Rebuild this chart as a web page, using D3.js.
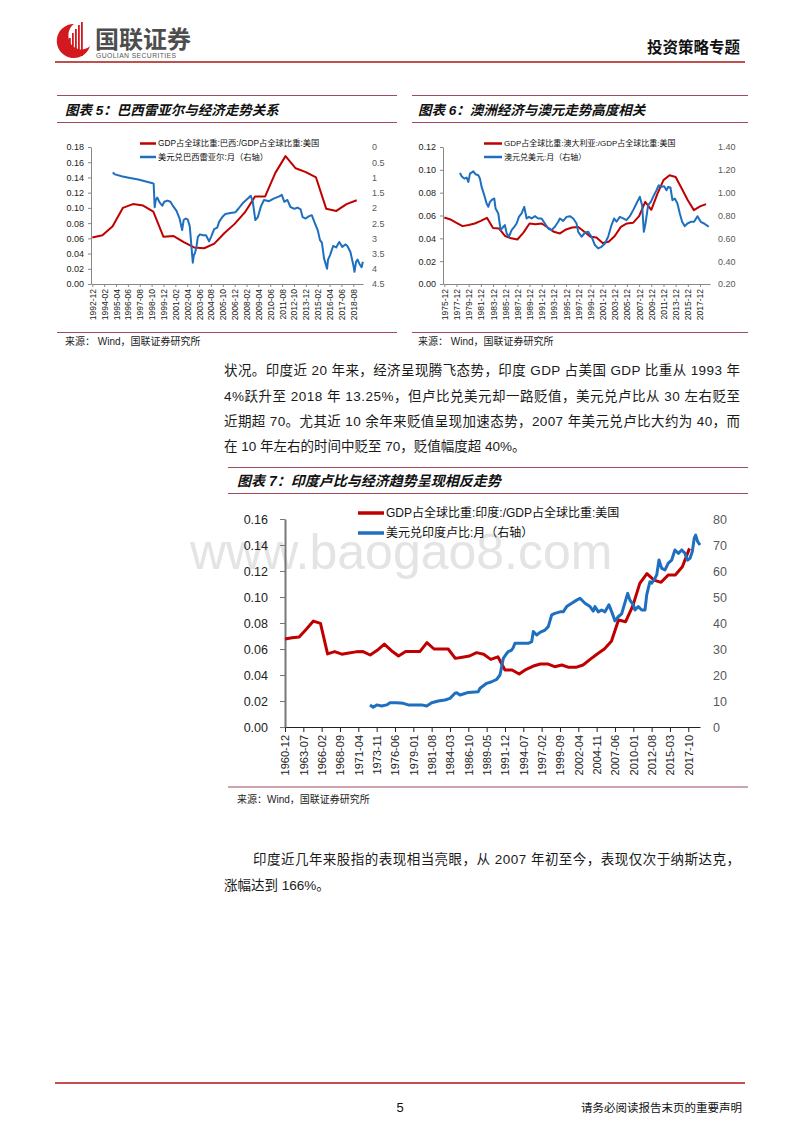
<!DOCTYPE html>
<html><head><meta charset="utf-8">
<script src="https://cdn.jsdelivr.net/npm/d3@7"></script>
<style>body{margin:0;background:#fff;}svg{display:block;}</style>
</head><body>
<svg id="page" width="800" height="1132"></svg>
<script>
// ---------------- DATA ----------------
// Chart 5: Brazil
const brXLabels = ["1992-12","1994-02","1995-04","1996-06","1997-08","1998-10","1999-12","2001-02","2002-04","2003-06","2004-08","2005-10","2006-12","2008-02","2009-04","2010-06","2011-08","2012-10","2013-12","2015-02","2016-04","2017-06","2018-08"];
const brYears = [1992,1993,1994,1995,1996,1997,1998,1999,2000,2001,2002,2003,2004,2005,2006,2007,2008,2009,2010,2011,2012,2013,2014,2015,2016,2017,2018];
const brGdpRatio = [0.061,0.064,0.076,0.100,0.105,0.103,0.095,0.062,0.063,0.055,0.048,0.047,0.053,0.067,0.079,0.094,0.115,0.115,0.146,0.168,0.152,0.147,0.140,0.099,0.096,0.105,0.110];
const brFx = [[1994.92,0.84],[1995.15,0.90],[1995.80,0.96],[1996.50,1.01],[1997.44,1.07],[1998.85,1.19],[1998.95,1.21],[1999.05,1.98],[1999.15,1.75],[1999.30,1.66],[1999.50,1.80],[1999.80,1.93],[2000.00,1.80],[2000.30,1.76],[2000.60,1.80],[2000.90,1.96],[2001.20,2.10],[2001.50,2.35],[2001.75,2.73],[2001.90,2.40],[2002.10,2.35],[2002.30,2.38],[2002.50,2.60],[2002.65,3.20],[2002.80,3.80],[2002.90,3.55],[2003.00,3.50],[2003.15,3.30],[2003.30,2.95],[2003.50,2.87],[2003.80,2.90],[2004.10,2.90],[2004.40,3.10],[2004.60,2.95],[2004.90,2.70],[2005.20,2.65],[2005.40,2.45],[2005.70,2.30],[2006.00,2.20],[2006.50,2.17],[2007.00,2.14],[2007.30,2.02],[2007.70,1.85],[2008.00,1.76],[2008.50,1.60],[2008.70,1.80],[2008.95,2.40],[2009.20,2.30],[2009.50,1.95],[2009.80,1.74],[2010.30,1.78],[2010.80,1.69],[2011.30,1.62],[2011.55,1.57],[2011.80,1.80],[2012.10,1.74],[2012.40,1.97],[2012.80,2.03],[2013.10,1.99],[2013.40,2.05],[2013.60,2.30],[2013.90,2.35],[2014.20,2.28],[2014.50,2.24],[2014.80,2.50],[2015.10,2.75],[2015.30,3.05],[2015.50,3.15],[2015.70,3.65],[2015.90,3.88],[2016.00,4.00],[2016.10,3.70],[2016.30,3.55],[2016.60,3.25],[2016.90,3.30],[2017.20,3.12],[2017.50,3.28],[2017.80,3.20],[2018.00,3.25],[2018.30,3.45],[2018.60,3.90],[2018.70,4.10],[2018.85,3.78],[2019.00,3.70],[2019.20,3.85],[2019.40,3.95],[2019.52,3.77]];
const brLeftTicks = [0,0.02,0.04,0.06,0.08,0.10,0.12,0.14,0.16,0.18];
const brRightTicks = [0,0.5,1,1.5,2,2.5,3,3.5,4,4.5];

// Chart 6: Australia
const auXLabels = ["1975-12","1977-12","1979-12","1981-12","1983-12","1985-12","1987-12","1989-12","1991-12","1993-12","1995-12","1997-12","1999-12","2001-12","2003-12","2005-12","2007-12","2009-12","2011-12","2013-12","2015-12","2017-12"];
const auYears = [1975,1976,1977,1978,1979,1980,1981,1982,1983,1984,1985,1986,1987,1988,1989,1990,1991,1992,1993,1994,1995,1996,1997,1998,1999,2000,2001,2002,2003,2004,2005,2006,2007,2008,2009,2010,2011,2012,2013,2014,2015,2016,2017,2018];
const auGdpRatio = [0.0583,0.0565,0.0536,0.0507,0.0516,0.0530,0.0553,0.0580,0.0490,0.0486,0.0420,0.0400,0.0390,0.0450,0.0530,0.0524,0.0530,0.0495,0.0457,0.0443,0.0478,0.0495,0.0500,0.0457,0.0414,0.0408,0.0360,0.0370,0.0420,0.0500,0.0530,0.0536,0.0594,0.0720,0.0650,0.0790,0.0910,0.0952,0.0938,0.0836,0.0734,0.0647,0.0680,0.0700];
const auFx = [[1978.49,1.173],[1978.76,1.144],[1979.20,1.123],[1979.58,1.132],[1979.86,1.094],[1980.13,1.167],[1980.68,1.187],[1981.06,1.161],[1981.50,1.153],[1981.77,1.123],[1982.04,1.051],[1982.48,0.978],[1982.86,0.905],[1983.14,0.876],[1983.41,0.919],[1983.79,0.940],[1984.12,0.949],[1984.34,0.861],[1984.78,0.818],[1985.16,0.672],[1985.60,0.701],[1985.87,0.716],[1986.15,0.643],[1986.53,0.614],[1986.97,0.672],[1987.41,0.701],[1987.79,0.730],[1988.17,0.788],[1988.61,0.818],[1989.05,0.876],[1989.43,0.774],[1989.81,0.788],[1990.25,0.774],[1990.80,0.794],[1991.35,0.774],[1991.89,0.774],[1992.44,0.730],[1992.99,0.686],[1993.53,0.672],[1994.08,0.701],[1994.63,0.745],[1994.90,0.774],[1995.45,0.753],[1996.00,0.788],[1996.54,0.794],[1997.09,0.774],[1997.64,0.730],[1997.91,0.657],[1998.46,0.614],[1999.01,0.649],[1999.55,0.657],[2000.10,0.614],[2000.65,0.541],[2001.19,0.512],[2001.74,0.526],[2002.29,0.555],[2002.83,0.614],[2003.38,0.716],[2003.82,0.774],[2004.20,0.745],[2004.75,0.788],[2005.30,0.774],[2005.84,0.759],[2006.39,0.794],[2006.94,0.847],[2007.48,0.905],[2008.03,0.963],[2008.41,0.890],[2008.69,0.657],[2008.96,0.730],[2009.40,0.890],[2009.84,0.919],[2010.22,0.963],[2010.77,1.021],[2011.15,1.065],[2011.59,1.051],[2012.03,1.056],[2012.41,1.021],[2012.68,1.051],[2013.06,1.045],[2013.39,0.934],[2013.78,0.949],[2014.21,0.905],[2014.60,0.818],[2014.98,0.745],[2015.42,0.707],[2015.85,0.730],[2016.40,0.745],[2016.95,0.745],[2017.50,0.794],[2018.04,0.745],[2018.59,0.730],[2018.97,0.716],[2019.36,0.701]];
const auLeftTicks = [0,0.02,0.04,0.06,0.08,0.10,0.12];
const auRightTicks = [0.2,0.4,0.6,0.8,1.0,1.2,1.4];

// Chart 7: India
const inXLabels = ["1960-12","1963-07","1966-02","1968-09","1971-04","1973-11","1976-06","1979-01","1981-08","1984-03","1986-10","1989-05","1991-12","1994-07","1997-02","1999-09","2002-04","2004-11","2007-06","2010-01","2012-08","2015-03","2017-10"];
const inYears = [1960,1961,1962,1963,1964,1965,1966,1967,1968,1969,1970,1971,1972,1973,1974,1975,1976,1977,1978,1979,1980,1981,1982,1983,1984,1985,1986,1987,1988,1989,1990,1991,1992,1993,1994,1995,1996,1997,1998,1999,2000,2001,2002,2003,2004,2005,2006,2007,2008,2009,2010,2011,2012,2013,2014,2015,2016,2017];
const inGdpRatio = [0.0677,0.0687,0.0693,0.0752,0.0815,0.0797,0.0562,0.0580,0.0560,0.0570,0.0578,0.0580,0.0554,0.0590,0.0638,0.0587,0.0546,0.0580,0.0580,0.0580,0.0649,0.0600,0.0600,0.0600,0.0528,0.0537,0.0546,0.0572,0.0560,0.0520,0.0540,0.0438,0.0438,0.0408,0.0444,0.0469,0.0485,0.0485,0.0464,0.0477,0.0459,0.0459,0.0477,0.0520,0.0562,0.0600,0.0660,0.0823,0.0810,0.0930,0.1105,0.1180,0.1130,0.1113,0.1169,0.1169,0.1233,0.1374];
const inFx = [[1972.89,8.5],[1973.36,7.6],[1973.84,8.5],[1974.54,8.1],[1975.25,8.5],[1975.71,9.3],[1976.66,9.3],[1977.59,9.1],[1978.29,8.5],[1979.24,8.5],[1980.18,8.5],[1980.88,8.1],[1981.59,9.3],[1982.52,10.0],[1983.46,10.4],[1984.17,11.0],[1984.87,13.0],[1985.11,13.2],[1985.58,12.3],[1986.04,12.7],[1986.75,13.3],[1988.16,13.6],[1988.40,14.9],[1989.34,16.8],[1990.04,17.4],[1990.75,18.3],[1991.21,20.0],[1991.45,23.2],[1991.68,26.4],[1992.16,28.3],[1992.38,29.0],[1992.86,29.6],[1993.09,30.6],[1993.32,32.2],[1994.03,32.2],[1995.20,32.2],[1995.68,32.8],[1995.91,36.7],[1996.39,35.4],[1996.85,36.4],[1997.56,37.3],[1998.02,38.6],[1998.50,43.1],[1998.96,43.7],[1999.67,44.3],[2000.13,44.3],[2000.61,46.3],[2001.32,47.6],[2002.02,48.8],[2002.49,49.5],[2003.19,47.6],[2003.90,46.3],[2004.36,44.6],[2004.60,46.3],[2005.07,44.3],[2005.54,45.0],[2006.01,44.3],[2006.57,47.0],[2007.04,43.7],[2007.42,40.8],[2007.88,42.4],[2008.36,43.5],[2008.73,47.0],[2009.21,51.4],[2009.53,48.8],[2010.00,47.0],[2010.24,45.0],[2010.70,46.3],[2011.18,45.0],[2011.65,45.0],[2011.89,50.8],[2012.11,53.3],[2012.35,55.9],[2012.59,55.3],[2013.06,57.2],[2013.30,58.5],[2013.62,64.2],[2014.00,61.0],[2014.47,60.4],[2014.93,63.0],[2015.41,64.2],[2015.87,68.1],[2016.34,66.8],[2016.82,68.1],[2017.28,66.8],[2017.66,64.2],[2017.99,64.9],[2018.31,67.4],[2018.59,72.6],[2018.79,73.8],[2019.07,71.3],[2019.40,70.0]];
const inLeftTicks = [0,0.02,0.04,0.06,0.08,0.10,0.12,0.14,0.16];
const inRightTicks = [0,10,20,30,40,50,60,70,80];

// Text
const para1 = ["状况。印度近 20 年来，经济呈现腾飞态势，印度 GDP 占美国 GDP 比重从 1993 年",
  "4%跃升至 2018 年 13.25%，但卢比兑美元却一路贬值，美元兑卢比从 30 左右贬至",
  "近期超 70。尤其近 10 余年来贬值呈现加速态势，2007 年美元兑卢比大约为 40，而",
  "在 10 年左右的时间中贬至 70，贬值幅度超 40%。"];
const para2 = ["印度近几年来股指的表现相当亮眼，从 2007 年初至今，表现仅次于纳斯达克，", "涨幅达到 166%。"];

// ---------------- DRAW ----------------
const CJK = "'Noto Sans CJK SC', sans-serif";
const LAT = "'Liberation Sans', 'Noto Sans CJK SC', sans-serif";
const RED = "#c00000", BLUE = "#1f6fc0", BOX = "#a04a5c", HDR = "#c0504d";
const svg = d3.select("#page");
svg.append("rect").attr("width",800).attr("height",1132).attr("fill","#fff");

// header logo
const logo = svg.append("g");
logo.append("path").attr("d","M74,24 A17,17 0 1 0 90,46 A13,14 0 1 1 74,24 Z").attr("fill","#d31920");
[[69,38],[72,33],[75,29],[78,25],[81,22]].forEach(b=>{
  logo.append("rect").attr("x",b[0]).attr("y",b[1]).attr("width",1.8).attr("height",56-b[1]).attr("fill","#d31920");
});
logo.append("text").attr("x",95).attr("y",48).attr("font-family",CJK).attr("font-weight","bold").attr("font-size",24).attr("fill","#4d4d4d").text("国联证券");
logo.append("text").attr("x",96).attr("y",57.5).attr("font-family",LAT).attr("font-size",6.8).attr("letter-spacing",0.4).attr("fill","#555").text("GUOLIAN SECURITIES");
svg.append("text").attr("x",740).attr("y",53).attr("text-anchor","end").attr("font-family",CJK).attr("font-weight","bold").attr("font-size",15.5).attr("fill","#111").text("投资策略专题");
svg.append("line").attr("x1",55).attr("x2",745).attr("y1",62).attr("y2",62).attr("stroke",HDR).attr("stroke-width",2);

// footer
svg.append("line").attr("x1",55).attr("x2",745).attr("y1",1083).attr("y2",1083).attr("stroke",HDR).attr("stroke-width",2);
svg.append("text").attr("x",400).attr("y",1112).attr("text-anchor","middle").attr("font-family",LAT).attr("font-size",13).attr("fill","#111").text("5");
svg.append("text").attr("x",742).attr("y",1112).attr("text-anchor","end").attr("font-family",CJK).attr("font-size",11.5).attr("fill","#111").text("请务必阅读报告末页的重要声明");

// paragraphs
function textLine(t, x, y, w){
  const el = svg.append("text").attr("x",x).attr("y",y).attr("font-family",LAT).attr("font-size",13.5).attr("fill","#1a1a1a").text(t);
  if (w) el.attr("textLength",w).attr("lengthAdjust","spacing");
}
textLine(para1[0],224,375,516);
textLine(para1[1],224,401,516);
textLine(para1[2],224,426,516);
textLine(para1[3],224,451,null);
textLine(para2[0],253,864,487);
textLine(para2[1],224,890,null);

// watermark
svg.append("text").attr("x",190).attr("y",569).attr("font-family","'Liberation Sans', sans-serif").attr("font-size",50).attr("fill","#e4e4e4").text("www.baogao8.com");

function labelPos(s){ const p = s.split("-"); return +p[0] + (+p[1]-1)/12; }

function box(o){
  svg.append("line").attr("x1",o.bx0).attr("x2",o.bx1).attr("y1",o.by0).attr("y2",o.by0).attr("stroke",BOX).attr("stroke-width",1);
  svg.append("line").attr("x1",o.bx0).attr("x2",o.bx1).attr("y1",o.by1).attr("y2",o.by1).attr("stroke",BOX).attr("stroke-width",1);
  svg.append("line").attr("x1",o.bx0).attr("x2",o.bx1).attr("y1",o.by2).attr("y2",o.by2).attr("stroke",BOX).attr("stroke-width",1);
  svg.append("text").attr("x",o.tx).attr("y",o.ty).attr("font-family",LAT).attr("font-weight","bold").attr("font-style","italic").attr("font-size",o.tf).attr("fill","#111").text(o.title);
  svg.append("text").attr("x",o.tx).attr("y",o.sy).attr("font-family",LAT).attr("font-size",o.sf).attr("fill","#222").text(o.source);
}

function drawChart(o){
  const g = svg.append("g");
  const x = d3.scaleLinear().domain(o.xDomain).range([o.x0,o.x1]);
  const yL = d3.scaleLinear().domain(o.lDomain).range([o.y1,o.y0]);
  const yR = d3.scaleLinear().domain(o.rDomain).range(o.rInvert ? [o.y0,o.y1] : [o.y1,o.y0]);

  const xa = g.append("g").attr("transform",`translate(0,${o.y1})`)
    .call(d3.axisBottom(x).tickValues(o.xLabels.map(labelPos)).tickFormat((d,i)=>o.xLabels[i]).tickSize(o.xTick).tickSizeOuter(0));
  xa.select(".domain").attr("stroke",o.xAxisColor).attr("stroke-width",1);
  xa.selectAll(".tick line").attr("stroke",o.xAxisColor);
  xa.selectAll(".tick text").attr("transform","rotate(-90)").attr("x",-(o.xTick+o.xPad)).attr("y",0).attr("dy","0.35em")
    .attr("text-anchor","end").attr("font-size",o.xFont).attr("font-family",LAT).attr("fill","#222");

  const la = g.append("g").attr("transform",`translate(${o.x0},0)`)
    .call(d3.axisLeft(yL).tickValues(o.lTicks).tickFormat(d3.format(".2f")).tickSize(o.lTick).tickSizeOuter(0).tickPadding(o.lPad));
  la.select(".domain").attr("stroke",o.lAxisColor).attr("stroke-width",o.lAxisW);
  la.selectAll(".tick line").attr("stroke",o.lAxisColor);
  la.selectAll(".tick text").attr("font-size",o.yFont).attr("font-family",LAT).attr("fill","#222");

  const ra = g.append("g").attr("transform",`translate(${o.x1},0)`)
    .call(d3.axisRight(yR).tickValues(o.rTicks).tickFormat(o.rFmt).tickSize(0).tickPadding(o.rPad));
  ra.select(".domain").remove();
  ra.selectAll(".tick text").attr("font-size",o.yFont).attr("font-family",LAT).attr("fill","#595959");

  const redPts = o.years.map((yr,i)=>[yr+11/12, o.red[i]]);
  g.append("path").datum(redPts).attr("fill","none").attr("stroke",RED).attr("stroke-width",o.lw).attr("stroke-linejoin","round")
    .attr("d", d3.line().x(d=>x(d[0])).y(d=>yL(d[1])));
  g.append("path").datum(o.blue).attr("fill","none").attr("stroke",BLUE).attr("stroke-width",o.lw).attr("stroke-linejoin","round")
    .attr("d", d3.line().x(d=>x(d[0])).y(d=>yR(d[1])));

  // legend
  [[RED,o.leg[0],o.ly0],[BLUE,o.leg[1],o.ly1]].forEach(l=>{
    g.append("line").attr("x1",o.lx0).attr("x2",o.lx1).attr("y1",l[2]).attr("y2",l[2]).attr("stroke",l[0]).attr("stroke-width",o.lw+0.5);
    g.append("text").attr("x",o.lx1+2).attr("y",l[2]).attr("dy","0.35em").attr("font-family",LAT).attr("font-size",o.lf).attr("fill","#111").text(l[1]);
  });
}

// Chart 5
box({bx0:57,bx1:397,by0:95.5,by1:122.5,by2:332.5,tx:65,ty:115,tf:13.5,title:"图表 5：巴西雷亚尔与经济走势关系",sy:345,sf:10,source:"来源： Wind，国联证券研究所"});
drawChart({x0:91,x1:363,y0:147,y1:284,xDomain:[1992.789,2019.537],lDomain:[0,0.18],rDomain:[0,4.5],rInvert:true,
  xLabels:brXLabels,xTick:3,xPad:2,xFont:8.5,xAxisColor:"#888",
  lTicks:brLeftTicks,lTick:3,lPad:4,lAxisColor:"#888",lAxisW:1,yFont:9,
  rTicks:brRightTicks,rPad:9,rFmt:d3.format("~g"),
  years:brYears,red:brGdpRatio,blue:brFx,lw:2,
  leg:["GDP占全球比重:巴西:/GDP占全球比重:美国","美元兑巴西雷亚尔:月（右轴）"],lx0:140,lx1:156,ly0:143.5,ly1:157,lf:8.3});

// Chart 6
box({bx0:412,bx1:748,by0:95.5,by1:122.5,by2:332.5,tx:418,ty:115,tf:13.5,title:"图表 6：澳洲经济与澳元走势高度相关",sy:345,sf:10,source:"来源： Wind，国联证券研究所"});
drawChart({x0:443,x1:710,y0:147,y1:284,xDomain:[1975.70,2019.56],lDomain:[0,0.12],rDomain:[0.2,1.4],rInvert:false,
  xLabels:auXLabels,xTick:3,xPad:2,xFont:8.5,xAxisColor:"#888",
  lTicks:auLeftTicks,lTick:3,lPad:4,lAxisColor:"#888",lAxisW:1,yFont:9,
  rTicks:auRightTicks,rPad:8,rFmt:d3.format(".2f"),
  years:auYears,red:auGdpRatio,blue:auFx,lw:2,
  leg:["GDP占全球比重:澳大利亚:/GDP占全球比重:美国","澳元兑美元:月（右轴）"],lx0:484,lx1:502,ly0:143.5,ly1:157,lf:8});

// Chart 7
box({bx0:228,bx1:748,by0:467.5,by1:493.5,by2:787,tx:237,ty:486,tf:14,title:"图表 7：印度卢比与经济趋势呈现相反走势",sy:803,sf:10,source:"来源：Wind，国联证券研究所"});
drawChart({x0:285,x1:700,y0:519,y1:727,xDomain:[1960.917,2019.40],lDomain:[0,0.16],rDomain:[0,80],rInvert:false,
  xLabels:inXLabels,xTick:5,xPad:3,xFont:11,xAxisColor:"#222",
  lTicks:inLeftTicks,lTick:5,lPad:12,lAxisColor:"#777",lAxisW:2,yFont:12.5,
  rTicks:inRightTicks,rPad:13,rFmt:d3.format("d"),
  years:inYears,red:inGdpRatio,blue:inFx,lw:3,
  leg:["GDP占全球比重:印度:/GDP占全球比重:美国","美元兑印度卢比:月（右轴）"],lx0:358,lx1:384,ly0:513,ly1:533,lf:12});
</script>
</body></html>
